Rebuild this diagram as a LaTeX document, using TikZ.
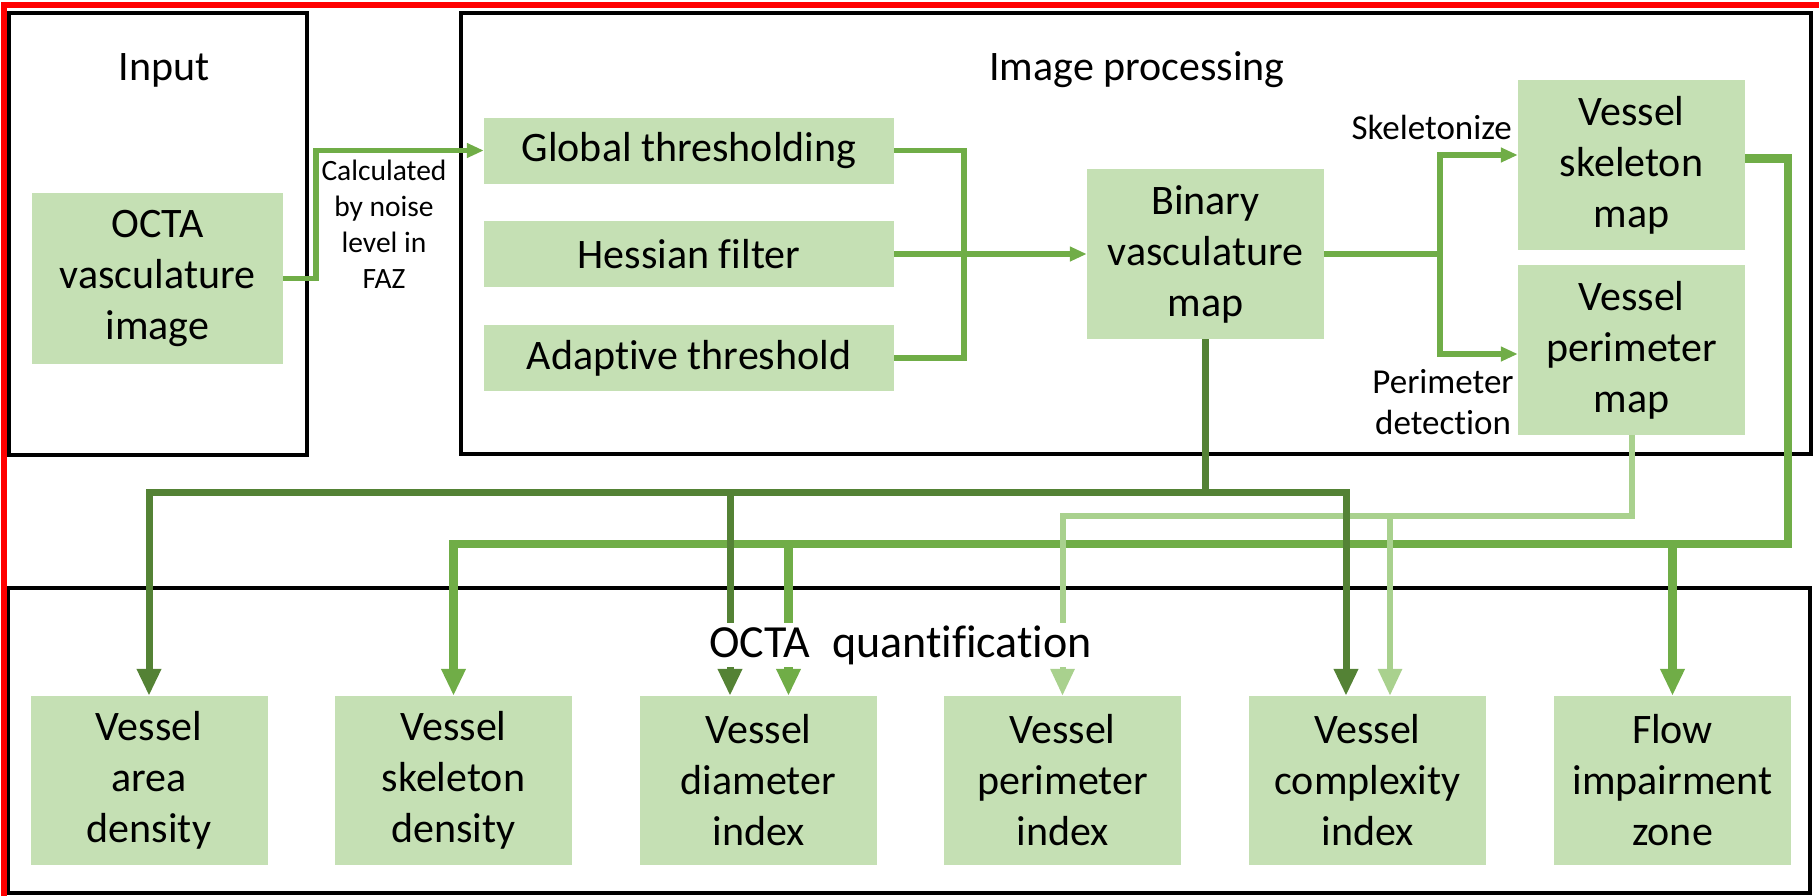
\documentclass[tikz,border=0pt]{standalone}
\usepackage{fontspec}
\setmainfont{Carlito}[Ligatures=NoCommon]
\usetikzlibrary{arrows.meta}
\definecolor{boxfill}{HTML}{C5E0B4}
\definecolor{gmid}{HTML}{70AD47}
\definecolor{gdark}{HTML}{548235}
\definecolor{glight}{HTML}{A9D18E}
\tikzset{
  panel/.style={draw, line width=4.5pt},
  blk/.style={fill=boxfill, inner sep=0pt, align=center, font=\fontsize{42}{51}\selectfont},
  stage/.style={blk, minimum width=410pt, minimum height=66pt},
  mapbox/.style={blk, minimum width=227pt, minimum height=170pt},
  res/.style={blk, minimum width=237pt, minimum height=169pt},
  lbl/.style={align=center, inner sep=0pt},
  feed/.style={gmid, line width=5.5pt, -{Triangle[width=14pt,length=17pt]}},
  bigtip/.style={-{Triangle[width=23pt,length=27pt]}},
  skelline/.style={gmid, line width=8.5pt, bigtip},
  periline/.style={glight, line width=6pt, bigtip},
  binline/.style={gdark, line width=7pt, bigtip}
}
\begin{document}
\begin{tikzpicture}[x=1pt,y=-1pt]
  \useasboundingbox (0,0) rectangle (1819,895);
  % frames
  \draw[panel] (9,13) rectangle (307,455);
  \draw[panel] (461,13) rectangle (1811,454);
  \draw[panel] (8,588) rectangle (1810,893);
  \draw[red, line width=6pt] (3.5,905) -- (3.5,5) -- (1830,5);
  \node[lbl, font=\fontsize{42}{51}\selectfont] (tin) at (164,70) {Input};
  \node[lbl, font=\fontsize{42}{51}\selectfont] (tproc) at (1137,70) {Image processing};
  % input and processing steps
  \draw
    (157.5,278.5) node[blk, minimum width=251pt, minimum height=171pt] (octa) {OCTA\\vasculature\\image}
    (689,150.5) node[stage] (glob) {Global thresholding}
    (689,254) node[stage] (hess) {Hessian filter}
    (689,358) node[stage] (adap) {Adaptive threshold}
    (1205.5,254) node[mapbox, minimum width=237pt] (bin) {Binary\\vasculature\\map}
    (1631.5,165) node[mapbox] (skel) {Vessel\\skeleton\\map}
    (1631.5,350) node[mapbox] (peri) {Vessel\\perimeter\\map};
  \node[lbl, font=\fontsize{29.5}{36}\selectfont] (calc) at (384,224.5) {Calculated\\by noise\\level in\\FAZ};
  \node[lbl, anchor=east, font=\fontsize{35}{41}\selectfont] (skl) at (1512,127) {Skeletonize};
  \node[lbl, font=\fontsize{35}{41}\selectfont] (pdl) at (1443,402.5) {Perimeter\\detection};
  \coordinate (mrg) at (964,254);
  \coordinate (spl) at (1440,254);
  \draw[feed] (octa.east) -- ++(33,0) |- (glob.west);
  \draw[gmid, line width=5.5pt] (glob.east) -| (mrg) |- (adap.east);
  \draw[feed] (hess.east) -- (bin.west);
  \draw[feed] (bin.east) -- (spl) |- ([yshift=10pt]skel.west);
  \draw[feed] (spl) |- ([yshift=-4pt]peri.west);
  % quantification results
  \draw
    (149,780.5) node[res] (aden) {Vessel\\area\\density}
    (453.5,780.5) node[res] (sden) {Vessel\\skeleton\\density}
    (758.5,780.5) node[res] (diam) {Vessel\\diameter\\index}
    (1062.5,780.5) node[res] (pidx) {Vessel\\perimeter\\index}
    (1367.5,780.5) node[res] (cplx) {Vessel\\complexity\\index}
    (1672.5,780.5) node[res] (fiz) {Flow\\impairment\\zone};
  \coordinate (md) at (1788,544);
  \coordinate (lt) at (1631.5,516);
  \coordinate (dk) at (1205.5,492);
  \draw[skelline] ([yshift=6.5pt]skel.east) -| (md) -| (sden.north);
  \draw[skelline] (md) -| ([xshift=30pt]diam.north);
  \draw[skelline] (md) -| (fiz.north);
  \draw[periline] (peri.south) -- (lt) -| (pidx.north);
  \draw[periline] (lt) -| ([xshift=22.5pt]cplx.north);
  \draw[binline] (bin.south) -- (dk) -| (aden.north);
  \draw[binline] (dk) -| ([xshift=-28.5pt]diam.north);
  \draw[binline] (dk) -| ([xshift=-21.5pt]cplx.north);
  \node[lbl, fill=white, minimum height=44pt, font=\fontsize{46}{54}\selectfont] (tquant) at (900.5,645) {OCTA\hspace{12pt} quantification};
\end{tikzpicture}
\end{document}
